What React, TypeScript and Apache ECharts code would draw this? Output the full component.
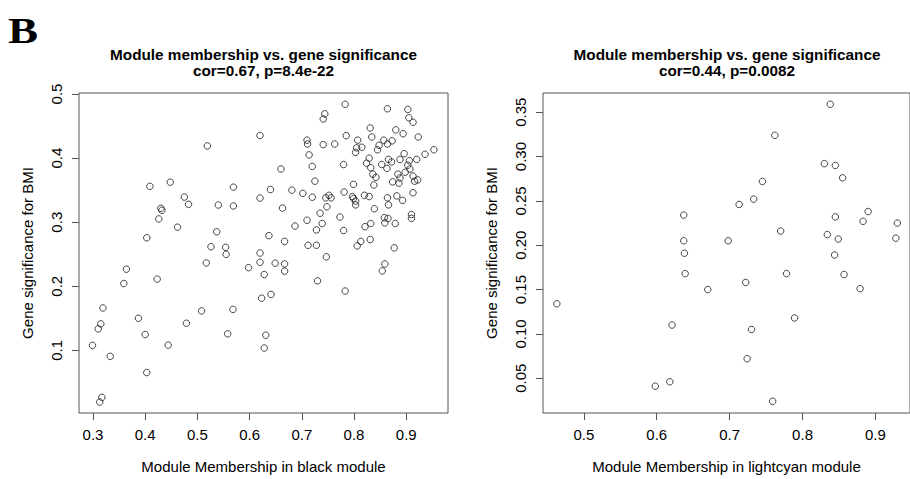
import React, { useEffect, useRef } from "react";
import * as echarts from "echarts";

// Left panel: black module
const blackMM = [
  0.519, 0.409, 0.448, 0.569, 0.620, 0.475, 0.483, 0.430, 0.432, 0.540, 0.569, 0.426, 0.462, 0.537, 0.403, 0.526, 0.554, 0.555, 0.620, 0.620,
  0.517, 0.598, 0.364, 0.359, 0.423, 0.319, 0.387, 0.508, 0.568, 0.315, 0.310, 0.479, 0.400, 0.558, 0.299, 0.444, 0.333, 0.403, 0.317, 0.313,
  0.620, 0.649, 0.667, 0.667, 0.628, 0.747, 0.730, 0.783, 0.859, 0.854, 0.641, 0.631, 0.628, 0.623,
  0.783, 0.864, 0.903, 0.744, 0.741, 0.905, 0.913, 0.831, 0.880, 0.894, 0.834, 0.923, 0.785, 0.807, 0.710, 0.711, 0.741, 0.763, 0.857, 0.873,
  0.864, 0.848, 0.805, 0.815, 0.845, 0.803, 0.714, 0.896, 0.953, 0.936, 0.920, 0.906, 0.888, 0.866, 0.829, 0.824, 0.853, 0.872, 0.863, 0.780,
  0.720, 0.660, 0.832, 0.903, 0.907, 0.898, 0.884, 0.888, 0.836, 0.842, 0.913, 0.922, 0.916, 0.874, 0.886, 0.725, 0.799, 0.838, 0.640, 0.681,
  0.702, 0.781, 0.720, 0.746, 0.752, 0.756, 0.797, 0.799, 0.820, 0.829, 0.864, 0.882, 0.913, 0.893, 0.803, 0.803, 0.866, 0.663, 0.748, 0.839,
  0.735, 0.773, 0.710, 0.739, 0.687, 0.728, 0.821, 0.832, 0.858, 0.865, 0.859, 0.879, 0.910, 0.910, 0.780, 0.637, 0.667, 0.712, 0.728, 0.806,
  0.813, 0.831, 0.877,
];
const blackGS = [
  0.419, 0.356, 0.3625, 0.3547, 0.3377, 0.3392, 0.3279, 0.3217, 0.3186, 0.3268, 0.3253, 0.3051, 0.2922, 0.285, 0.2757, 0.2617, 0.2608, 0.2499, 0.2519, 0.4353,
  0.2364, 0.2291, 0.2267, 0.2043, 0.2112, 0.1662, 0.1501, 0.1616, 0.164, 0.1414, 0.1336, 0.1423, 0.1248, 0.1259, 0.1078, 0.1082, 0.0907, 0.0654, 0.0267, 0.0194,
  0.2375, 0.236, 0.2349, 0.2236, 0.2183, 0.246, 0.2085, 0.1926, 0.2349, 0.224, 0.1873, 0.1237, 0.1036, 0.1814,
  0.484, 0.477, 0.476, 0.469, 0.461, 0.463, 0.456, 0.447, 0.444, 0.438, 0.433, 0.433, 0.435, 0.428, 0.428, 0.422, 0.421, 0.422, 0.428, 0.427,
  0.422, 0.420, 0.416, 0.417, 0.413, 0.409, 0.405, 0.407, 0.413, 0.406, 0.398, 0.396, 0.398, 0.398, 0.400, 0.392, 0.390, 0.394, 0.384, 0.390,
  0.387, 0.383, 0.385, 0.389, 0.383, 0.378, 0.375, 0.369, 0.375, 0.370, 0.372, 0.366, 0.364, 0.363, 0.361, 0.364, 0.359, 0.358, 0.351, 0.350,
  0.345, 0.347, 0.339, 0.338, 0.342, 0.338, 0.340, 0.337, 0.342, 0.340, 0.338, 0.341, 0.346, 0.334, 0.333, 0.327, 0.327, 0.322, 0.324, 0.321,
  0.314, 0.308, 0.303, 0.298, 0.294, 0.288, 0.293, 0.298, 0.307, 0.306, 0.299, 0.298, 0.312, 0.306, 0.287, 0.279, 0.270, 0.264, 0.264, 0.263,
  0.270, 0.273, 0.260,
];

// Right panel: lightcyan module
const lightcyanMM = [
  0.463, 0.598, 0.618, 0.621, 0.637, 0.637, 0.638, 0.639, 0.670, 0.698, 0.713, 0.733, 0.745, 0.722, 0.724, 0.730, 0.759, 0.762,
  0.770, 0.778, 0.789, 0.830, 0.838, 0.845, 0.855, 0.845, 0.834, 0.849, 0.844, 0.857, 0.879, 0.890, 0.883, 0.930, 0.928,
];
const lightcyanGS = [
  0.134, 0.041, 0.046, 0.110, 0.234, 0.205, 0.191, 0.168, 0.150, 0.205, 0.246, 0.252, 0.272, 0.158, 0.072, 0.105, 0.024, 0.324,
  0.216, 0.168, 0.118, 0.292, 0.359, 0.290, 0.276, 0.232, 0.212, 0.207, 0.189, 0.167, 0.151, 0.238, 0.227, 0.225, 0.208,
];

const blackXTicks = [0.3, 0.4, 0.5, 0.6, 0.7, 0.8, 0.9];
const blackYTicks = [0.1, 0.2, 0.3, 0.4, 0.5];
const lightcyanXTicks = [0.5, 0.6, 0.7, 0.8, 0.9];
const lightcyanYTicks = [0.05, 0.1, 0.15, 0.2, 0.25, 0.3, 0.35];

const panelTitle = "Module membership vs. gene significance";
const blackStat = "cor=0.67, p=8.4e-22";
const lightcyanStat = "cor=0.44, p=0.0082";
const blackXName = "Module Membership in black module";
const lightcyanXName = "Module Membership in lightcyan module";
const yName = "Gene significance for BMI";
const panelLetter = "B";

const FONT = '"Liberation Sans", Arial, Helvetica, sans-serif';
const AXIS_COLOR = "#555";

function makeX(gridIndex: number, min: number, max: number, ticks: number[], name: string, dec: number) {
  return {
    type: "value",
    gridIndex,
    min,
    max,
    name,
    nameLocation: "middle",
    nameGap: 46,
    nameTextStyle: { fontFamily: FONT, fontSize: 15, color: "#000" },
    axisLine: { show: false },
    splitLine: { show: false },
    axisTick: { show: true, inside: false, length: 7, customValues: ticks, lineStyle: { color: AXIS_COLOR, width: 1 } },
    axisLabel: {
      show: true,
      customValues: ticks,
      margin: 14,
      fontFamily: FONT,
      fontSize: 15,
      color: "#000",
      formatter: (v: number) => v.toFixed(dec),
    },
  };
}

function makeY(gridIndex: number, min: number, max: number, ticks: number[], dec: number) {
  return {
    type: "value",
    gridIndex,
    min,
    max,
    name: yName,
    nameLocation: "middle",
    nameGap: 44,
    nameRotate: 90,
    nameTextStyle: { fontFamily: FONT, fontSize: 15, color: "#000" },
    axisLine: { show: false },
    splitLine: { show: false },
    axisTick: { show: true, inside: false, length: 7, customValues: ticks, lineStyle: { color: AXIS_COLOR, width: 1 } },
    axisLabel: {
      show: true,
      customValues: ticks,
      rotate: 90,
      margin: 15,
      fontFamily: FONT,
      fontSize: 15,
      color: "#000",
      formatter: (v: number) => v.toFixed(dec),
    },
  };
}

function titleText(x: number, y: number, text: string) {
  return {
    type: "text",
    x,
    y,
    silent: true,
    style: {
      text,
      font: `bold 15.3px ${FONT}`,
      fill: "#000",
      textAlign: "center",
      textVerticalAlign: "middle",
      align: "center",
      verticalAlign: "middle",
    },
  };
}

export default function App() {
  const ref = useRef<HTMLDivElement>(null);
  useEffect(() => {
    if (!ref.current) return;
    const chart = echarts.init(ref.current, null, { renderer: "svg" });
    const pointStyle = { color: "rgba(0,0,0,0)", borderColor: "#1a1a1a", borderWidth: 1 };
    const option: any = {
      animation: false,
      backgroundColor: "#fff",
      grid: [
        { left: 79, top: 93, width: 369, height: 322, show: true, borderColor: AXIS_COLOR, borderWidth: 1, backgroundColor: "transparent", containLabel: false },
        { left: 543, top: 93, width: 368, height: 322, show: true, borderColor: AXIS_COLOR, borderWidth: 1, backgroundColor: "transparent", containLabel: false },
      ],
      xAxis: [
        makeX(0, 0.2732, 0.98, blackXTicks, blackXName, 1),
        makeX(1, 0.444, 0.9474, lightcyanXTicks, lightcyanXName, 1),
      ],
      yAxis: [
        makeY(0, 0.0023, 0.5016, blackYTicks, 1),
        makeY(1, 0.0108, 0.3717, lightcyanYTicks, 2),
      ],
      series: [
        {
          type: "scatter",
          xAxisIndex: 0,
          yAxisIndex: 0,
          symbol: "circle",
          symbolSize: 6.5,
          itemStyle: pointStyle,
          silent: true,
          data: blackMM.map((v, i) => [v, blackGS[i]]),
        },
        {
          type: "scatter",
          xAxisIndex: 1,
          yAxisIndex: 1,
          symbol: "circle",
          symbolSize: 6.5,
          itemStyle: pointStyle,
          silent: true,
          data: lightcyanMM.map((v, i) => [v, lightcyanGS[i]]),
        },
      ],
      graphic: [
        {
          type: "text",
          x: 8,
          y: 31,
          scaleX: 1.25,
          silent: true,
          style: {
            text: panelLetter,
            font: 'bold 36px "Liberation Serif", "Times New Roman", serif',
            fill: "#000",
            textAlign: "left",
            textVerticalAlign: "middle",
            align: "left",
            verticalAlign: "middle",
          },
        },
        titleText(263.5, 54, panelTitle),
        titleText(263.5, 70.5, blackStat),
        titleText(727, 54, panelTitle),
        titleText(727, 70.5, lightcyanStat),
      ],
    };
    chart.setOption(option);
    return () => chart.dispose();
  }, []);
  return (
    <div
      ref={ref}
      style={{ position: "absolute", left: 0, top: 0, width: 910, height: 479, background: "#fff" }}
    />
  );
}
